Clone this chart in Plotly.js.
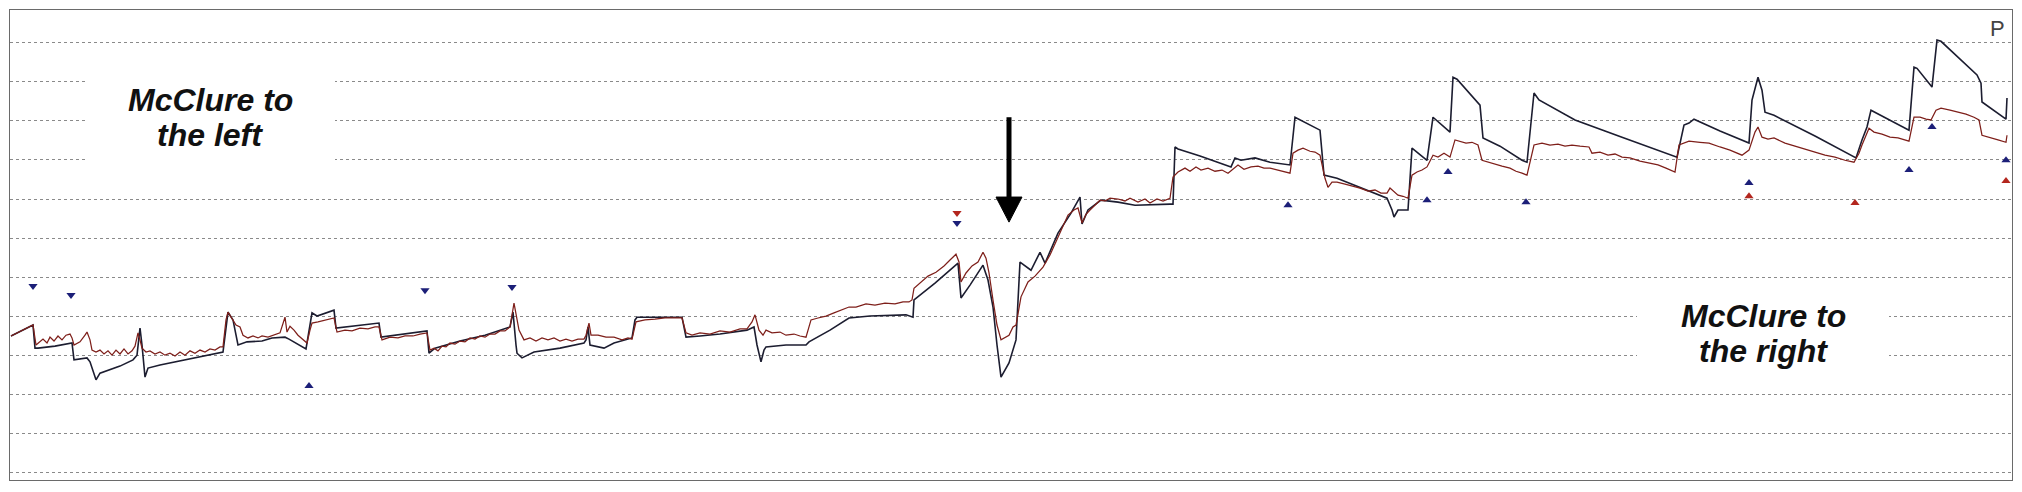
<!DOCTYPE html>
<html>
<head>
<meta charset="utf-8">
<script src="https://cdn.plot.ly/plotly-3.0.1.min.js"></script>
<style>html,body{margin:0;padding:0;background:#fff;}#chart{width:2022px;height:492px;}</style>
</head>
<body>
<div id="chart"></div>
<script>
// time index (samples)
const blackT = [
11,22,33,35,38,55,72,74,87,90,
93,96,100,110,120,133,137,140,142,145,
148,160,180,200,223,228,233,238,247,262,
272,285,289,306,312,317,334,336,379,381,
427,429,435,460,485,510,513,516,517,522,
534,560,584,586,588,590,604,614,632,635,
637,682,686,700,720,747,754,757,761,764,
766,786,806,809,830,849,870,906,913,914,
935,958,961,970,983,988,993,997,1001,1009,
1016,1020,1031,1040,1045,1058,1071,1080,1082,1088,
1101,1118,1135,1170,1173,1175,1178,1200,1231,1235,
1241,1255,1270,1290,1295,1320,1324,1337,1387,1392,
1394,1398,1408,1412,1427,1433,1450,1453,1457,1480,
1483,1500,1522,1527,1534,1539,1575,1622,1677,1684,
1689,1694,1720,1749,1752,1758,1762,1765,1774,1815,
1856,1862,1867,1871,1909,1914,1917,1932,1937,1941,
1977,1981,1982,2006,2007];
const blackV = [
35.0,36.3,37.8,31.9,31.9,32.4,33.2,28.9,29.4,28.4,
25.8,23.8,25.5,26.3,27.3,28.9,30.1,37.0,32.7,24.5,
26.8,27.6,28.6,29.6,30.9,41.1,39.1,32.7,33.5,33.7,
34.5,34.7,34.2,31.7,40.9,40.1,41.6,37.0,38.3,34.7,
36.3,30.6,31.9,33.7,35.2,37.3,41.1,32.7,30.6,29.4,
30.9,31.9,33.2,34.0,37.3,32.7,31.9,33.2,34.5,39.1,
39.8,39.8,34.7,35.0,35.5,36.5,37.3,32.7,28.4,31.4,
32.2,32.7,32.7,33.5,36.5,39.6,40.1,40.4,39.8,44.2,
48.5,53.6,44.7,48.0,53.1,49.3,42.4,32.7,24.5,28.1,
34.0,53.9,51.8,56.4,53.6,61.3,66.4,70.5,63.6,67.2,
69.7,69.2,68.4,68.7,68.7,83.3,82.8,81.0,78.2,80.5,
79.9,80.5,79.4,78.7,90.9,87.6,76.1,75.3,70.2,67.2,
65.4,67.2,67.2,83.0,79.9,90.9,87.1,101.1,100.6,94.0,
85.6,83.5,79.9,79.4,97.1,95.3,90.2,85.8,80.7,88.9,
89.4,90.4,87.4,84.3,95.3,101.1,97.8,92.2,91.4,86.1,
80.5,85.1,88.4,92.7,87.6,103.7,103.4,98.6,110.6,110.3,
101.7,99.6,94.8,90.4,95.8];

const redT = [
11,22,33,36,40,43,47,50,54,58,
62,66,70,72,74,80,85,87,90,92,
96,100,104,108,112,116,120,124,128,132,
135,138,140,142,146,150,155,160,165,170,
175,180,185,190,195,200,205,210,215,220,
223,226,228,232,236,240,243,248,253,258,
262,268,274,280,285,287,290,294,298,302,
307,310,312,318,325,334,337,345,352,360,
368,375,379,382,390,398,405,413,420,427,
430,434,438,442,446,450,455,460,465,470,
475,480,485,490,495,500,505,510,514,517,
519,524,530,536,542,548,554,560,566,572,
578,584,586,589,591,598,606,614,622,628,
632,636,645,655,665,675,682,686,692,700,
710,720,730,740,747,752,755,759,763,766,
772,780,786,794,800,806,811,818,826,834,
842,849,856,866,875,885,895,903,909,912,
914,920,928,936,944,950,956,959,961,966,
972,978,983,986,989,993,997,1001,1005,1009,
1013,1016,1021,1028,1035,1043,1050,1058,1064,1068,
1074,1078,1082,1086,1090,1095,1100,1105,1110,1118,
1125,1130,1138,1145,1150,1157,1163,1170,1173,1178,
1185,1190,1196,1201,1208,1215,1222,1228,1233,1238,
1244,1251,1258,1264,1270,1278,1285,1290,1293,1298,
1303,1310,1315,1320,1325,1328,1332,1337,1345,1352,
1360,1368,1375,1381,1387,1390,1394,1398,1403,1408,
1412,1417,1422,1427,1433,1438,1444,1450,1455,1460,
1466,1472,1478,1482,1488,1495,1502,1510,1516,1522,
1527,1534,1542,1550,1558,1565,1572,1580,1589,1592,
1600,1608,1615,1622,1630,1640,1649,1658,1666,1675,
1679,1689,1700,1709,1720,1730,1742,1749,1755,1758,
1762,1768,1774,1785,1795,1805,1815,1825,1835,1845,
1854,1859,1862,1869,1874,1882,1890,1898,1905,1909,
1914,1920,1926,1931,1936,1941,1950,1958,1966,1974,
1979,1982,1990,1998,2006,2007];
const redV = [
35.0,36.3,37.8,32.7,33.5,34.2,33.2,34.7,33.7,35.0,
34.0,35.2,35.5,34.5,32.7,33.5,35.2,36.0,34.0,31.4,
30.9,31.4,30.4,31.2,30.1,31.4,30.4,31.7,30.4,31.2,
32.4,35.8,34.0,31.9,30.9,31.2,30.4,30.9,30.1,30.6,
29.9,30.9,30.1,31.2,30.6,31.4,30.9,31.7,31.4,32.2,
32.2,39.1,41.1,39.6,37.8,37.3,35.2,34.5,35.0,34.5,
35.0,34.7,35.2,35.8,39.8,36.0,37.5,36.5,35.2,34.2,
33.2,36.5,38.3,38.6,39.1,39.6,36.0,36.5,36.3,37.0,
36.8,37.3,37.3,34.0,34.7,34.5,35.0,35.0,35.5,35.8,
31.4,31.9,31.2,32.4,32.2,33.2,32.9,33.7,33.5,34.5,
34.2,35.0,34.7,35.5,35.5,36.3,36.3,37.3,43.4,39.6,
36.5,34.0,34.5,33.7,34.5,34.0,34.5,33.7,34.2,33.7,
34.2,34.2,35.2,38.3,35.2,35.2,34.7,34.7,34.0,34.5,
34.2,38.6,39.1,39.3,39.6,39.6,39.6,35.8,35.2,35.8,
35.5,36.3,36.0,36.8,36.8,38.6,40.4,36.5,35.2,36.5,
35.8,36.0,35.2,35.5,35.0,34.7,39.1,39.6,40.1,40.9,
41.6,42.4,42.4,43.2,42.9,43.4,43.2,43.7,43.7,44.2,
47.2,48.5,50.3,51.3,52.9,54.4,55.9,53.9,48.8,51.1,
52.9,53.9,56.4,54.9,51.1,44.2,37.8,34.0,34.5,35.2,
37.3,37.8,45.0,48.8,50.3,52.6,55.7,60.3,63.3,65.9,
67.2,67.7,63.9,66.1,67.2,68.4,69.7,69.5,70.2,70.0,
69.5,70.2,69.2,70.0,69.0,70.0,69.5,70.2,75.6,76.9,
77.9,77.1,78.2,77.4,77.9,77.1,77.4,76.6,77.6,78.7,
77.6,78.2,78.4,77.9,77.9,77.4,77.1,76.6,81.7,82.5,
83.0,82.2,82.0,81.2,75.3,73.0,74.3,74.3,73.8,73.3,
72.8,72.0,72.3,71.5,71.5,72.8,71.8,71.0,70.7,70.2,
76.1,76.9,77.4,78.2,81.2,80.7,81.7,80.7,85.1,84.8,
84.3,84.5,83.8,79.9,79.4,78.9,78.4,77.9,77.1,76.6,
76.1,83.8,84.3,83.8,84.0,83.5,83.8,83.5,83.3,81.7,
82.0,81.2,81.5,80.7,80.5,79.7,79.2,78.7,77.9,76.9,
83.8,84.8,84.5,84.3,83.3,82.5,81.2,82.5,87.1,88.4,
85.8,85.3,85.6,84.3,83.5,82.8,82.0,81.2,80.7,79.9,
79.4,81.7,83.8,88.1,87.1,86.6,85.8,85.6,85.1,84.8,
90.9,90.9,90.4,90.2,92.7,93.2,92.7,92.2,91.7,90.9,
90.2,86.3,85.6,85.1,84.5,86.3];

// event markers
const blueDownT = [33,71,425,512,957];
const blueDownV = [47.8,45.5,46.7,47.5,63.9];
const redDownT = [957];
const redDownV = [66.4];
const blueUpT = [309,1288,1427,1448,1526,1749,1909,1932,2006];
const blueUpV = [22.2,68.4,69.7,76.9,69.2,74.1,77.4,88.4,79.9];
const redUpT = [1749,1855,2006];
const redUpV = [70.7,69.0,74.6];

const leftLines = ["McClure to", "the left"];
const rightLines = ["McClure to", "the right"];
const arrowX = 1009, arrowTop = 90.9, arrowNeck = 70.5, arrowTip = 64.1;

const traces = [
  {x: blackT, y: blackV, type: 'scatter', mode: 'lines', line: {color: '#1c1d30', width: 1.6}, hoverinfo: 'skip'},
  {x: redT, y: redV, type: 'scatter', mode: 'lines', line: {color: '#7e1f1a', width: 1.25}, hoverinfo: 'skip'},
  {x: blueDownT, y: blueDownV, type: 'scatter', mode: 'markers', marker: {symbol: 'triangle-down', size: 8, color: '#1c1f78'}},
  {x: redDownT, y: redDownV, type: 'scatter', mode: 'markers', marker: {symbol: 'triangle-down', size: 8, color: '#b3261e'}},
  {x: blueUpT, y: blueUpV, type: 'scatter', mode: 'markers', marker: {symbol: 'triangle-up', size: 8, color: '#1c1f78'}},
  {x: redUpT, y: redUpV, type: 'scatter', mode: 'markers', marker: {symbol: 'triangle-up', size: 8, color: '#b3261e'}}
];

const txtFont = {family: 'Liberation Sans, Arial, sans-serif', size: 32, color: '#111', weight: 'bold', style: 'italic'};
function label(x, y, t) {
  return {x: x, y: y, xref: 'x', yref: 'y', text: t, showarrow: false, font: txtFont, xanchor: 'center', yanchor: 'middle'};
}

const layout = {
  width: 2022, height: 492,
  margin: {l: 10, r: 10, t: 10, b: 12, pad: 0},
  paper_bgcolor: '#ffffff', plot_bgcolor: '#ffffff',
  showlegend: false,
  xaxis: {range: [10, 2012], showgrid: false, zeroline: false, showticklabels: false, ticks: '',
          showline: true, mirror: true, linecolor: '#6a6a6a', linewidth: 1},
  yaxis: {range: [-1.8, 118.3], tick0: 0, dtick: 10, showgrid: true, gridcolor: '#8a8a8a', gridwidth: 1,
          griddash: '3px,3px', zeroline: false, showticklabels: false, ticks: '',
          showline: true, mirror: true, linecolor: '#6a6a6a', linewidth: 1},
  annotations: [
    label(210, 95.3, leftLines[0]),
    label(210, 86.3, leftLines[1]),
    label(1763, 40.2, rightLines[0]),
    label(1763, 31.2, rightLines[1]),
    {x: 1997, y: 113.6, xref: 'x', yref: 'y', text: 'P', showarrow: false,
     font: {family: 'Liberation Sans, Arial, sans-serif', size: 22, color: '#444'}}
  ],
  shapes: [
    {type: 'rect', xref: 'x', yref: 'y', x0: 85, x1: 335, y0: 76.9, y1: 105.0, layer: 'above',
     fillcolor: '#ffffff', line: {width: 0}},
    {type: 'rect', xref: 'x', yref: 'y', x0: 1637, x1: 1889, y0: 23.5, y1: 47.0, layer: 'above',
     fillcolor: '#ffffff', line: {width: 0}},
    {type: 'line', xref: 'x', yref: 'y', x0: arrowX, x1: arrowX, y0: arrowTop, y1: arrowNeck,
     line: {color: '#000', width: 5}},
    {type: 'path', xref: 'x', yref: 'y',
     path: 'M' + (arrowX - 13) + ',' + arrowNeck + ' L' + (arrowX + 13) + ',' + arrowNeck + ' L' + arrowX + ',' + arrowTip + ' Z',
     fillcolor: '#000', line: {color: '#000', width: 1}}
  ]
};

Plotly.newPlot('chart', traces, layout, {staticPlot: true, displayModeBar: false});
</script>
</body>
</html>
